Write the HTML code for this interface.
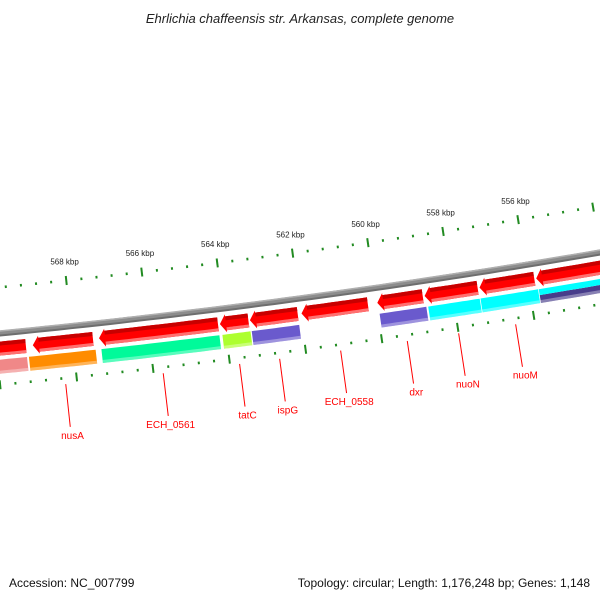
<!DOCTYPE html>
<html><head><meta charset="utf-8">
<style>
html,body{margin:0;padding:0;background:#fff;}
svg{display:block;font-family:"Liberation Sans","DejaVu Sans",sans-serif;}
</style></head>
<body>
<svg id="map" width="600" height="600" viewBox="0 0 600 600">
<text x="300" y="23" text-anchor="middle" font-size="13" font-style="italic" fill="#222">Ehrlichia chaffeensis str. Arkansas, complete genome</text>
<text x="9" y="587" font-size="12" fill="#111">Accession: NC_007799</text>
<text x="590" y="587" text-anchor="end" font-size="12" fill="#111">Topology: circular; Length: 1,176,248 bp; Genes: 1,148</text>
</svg>
<script>
// ---- data ----
const majorTicks = [568, 566, 564, 562, 560, 558, 556];
const tickLabels = ["568 kbp","566 kbp","564 kbp","562 kbp","560 kbp","558 kbp","556 kbp"];
const revStarts = [571.2, 569.05, 567.31, 564.13, 563.34, 561.98, 559.98, 558.73, 557.28, 555.78];
const revEnds   = [569.23, 567.47, 564.18, 563.38, 562.08, 560.23, 558.78, 557.33, 555.83, 552.7];
const fwdStarts = [571.2, 569.18, 567.28, 564.1, 563.33, 559.96, 558.68, 557.3, 555.76];
const fwdEnds   = [569.23, 567.43, 564.18, 563.36, 562.08, 558.73, 557.32, 555.78, 552.7];
const fwdColors = ["#f08888", "#ff8c00", "#00fa9a", "#adff2f", "#6a5acd", "#6a5acd", "#00ffff", "#00ffff", "#483d8b"];
const geneNames = ["nusA", "ECH_0561", "tatC", "ispG", "ECH_0558", "dxr", "nuoN", "nuoM"];
const genePos   = [568.3, 565.75, 563.75, 562.7, 561.1, 559.35, 558.0, 556.5];

// ---- geometry ----
const svg = document.getElementById('map');
const NS = 'http://www.w3.org/2000/svg';
const CX = -824, CY = -8036, R0 = 8409;
function theta(k){ return 0.1339 + (562 - k) * 0.004543; }
function pt(k, off){ const t = theta(k), r = R0 + off; return [CX + r*Math.sin(t), CY + r*Math.cos(t)]; }
function arcPts(k1, k2, off, n){ const a=[]; for(let i=0;i<=n;i++){ a.push(pt(k1+(k2-k1)*i/n, off)); } return a; }
function mk(tag, attrs){ const e=document.createElementNS(NS,tag); for(const k in attrs) e.setAttribute(k, attrs[k]); svg.appendChild(e); return e; }
function ptsStr(a){ return a.map(p=>p[0].toFixed(1)+','+p[1].toFixed(1)).join(' '); }

// backbone
[["#6e6e6e",6,1],["#8c8c8c",4,0],["#b0b0b0",1.5,-1.5]].forEach((s,i)=>{
  const e = mk('polyline',{points:ptsStr(arcPts(572,552,s[2],60)),fill:'none',stroke:s[0],'stroke-width':s[1]});
  
  
});

// ticks (inner ring and outer ring)
function drawTicks(off, ring){
  for(let k=572; k>=552; k-=0.4){
    const kk = Math.round(k*10)/10;
    const major = Math.abs(kk/2 - Math.round(kk/2)) < 0.01;
    const h = major ? 4.5 : 1.3;
    const a = pt(kk, off-h), b = pt(kk, off+h);
    const e = mk('line',{x1:a[0],y1:a[1],x2:b[0],y2:b[1],stroke:'#228b22','stroke-width':2});
    
    
  }
}
drawTicks(-45, 'inner');
drawTicks(52, 'outer');
majorTicks.forEach((k,i)=>{
  const p = pt(k, -61);
  const e = mk('text',{x:p[0],y:p[1],'text-anchor':'middle','font-size':8,fill:'#222'});
  e.textContent = tickLabels[i];
  
  
});

// reverse strand arrows (point toward higher kbp / left)
const rIn = 9, rOut = 23, head = 0.16;
revStarts.forEach((ks,i)=>{
  const ke = revEnds[i];
  const top = arcPts(ke, ks-head, rIn, 12);
  const bot = arcPts(ks-head, ke, rOut, 12);
  const poly = top.concat([pt(ks-head, rIn-2), pt(ks,(rIn+rOut)/2), pt(ks-head, rOut+2)]).concat(bot);
  const g = mk('polygon',{points:ptsStr(poly),fill:'#ff0000'});
  
  
  const sh = arcPts(ke, ks-head, rIn, 12).concat(arcPts(ks-head, ke, rIn+4, 12));
  const s1 = mk('polygon',{points:ptsStr(sh),fill:'#c80000'});
  
  
  const lt = arcPts(ke, ks-head, rOut-3, 12).concat(arcPts(ks-head, ke, rOut, 12));
  const s2 = mk('polygon',{points:ptsStr(lt),fill:'#ff7070'});
  
  
});

// forward / second row blocks
fwdStarts.forEach((ks,i)=>{
  const ke = fwdEnds[i];
  const last = (i === fwdStarts.length-1);
  const a = last ? 33 : 27, b = 41;
  const poly = arcPts(ke, ks, a, 12).concat(arcPts(ks, ke, b, 12));
  const e = mk('polygon',{points:ptsStr(poly),fill:fwdColors[i]});
  
  
  const hl = arcPts(ke, ks, b-3, 12).concat(arcPts(ks, ke, b, 12));
  const h = mk('polygon',{points:ptsStr(hl),fill:'#ffffff','fill-opacity':0.35});
  
  
  if(last){
    const c = arcPts(ke, ks, 27, 12).concat(arcPts(ks, ke, 33, 12));
    const e2 = mk('polygon',{points:ptsStr(c),fill:'#00ffff'});
    
    
  }
});

// gene labels
geneNames.forEach((n,i)=>{
  const k = genePos[i];
  const a = pt(k, 58), b = pt(k, 101), t = pt(k, 113);
  const l = mk('line',{x1:a[0],y1:a[1],x2:b[0],y2:b[1],stroke:'#ff0000','stroke-width':1});
  
  
  const tx = mk('text',{x:t[0]+1,y:t[1],'text-anchor':'middle','font-size':10,fill:'#ff0000'});
  tx.textContent = n;
  
  
});
</script>
</body></html>
